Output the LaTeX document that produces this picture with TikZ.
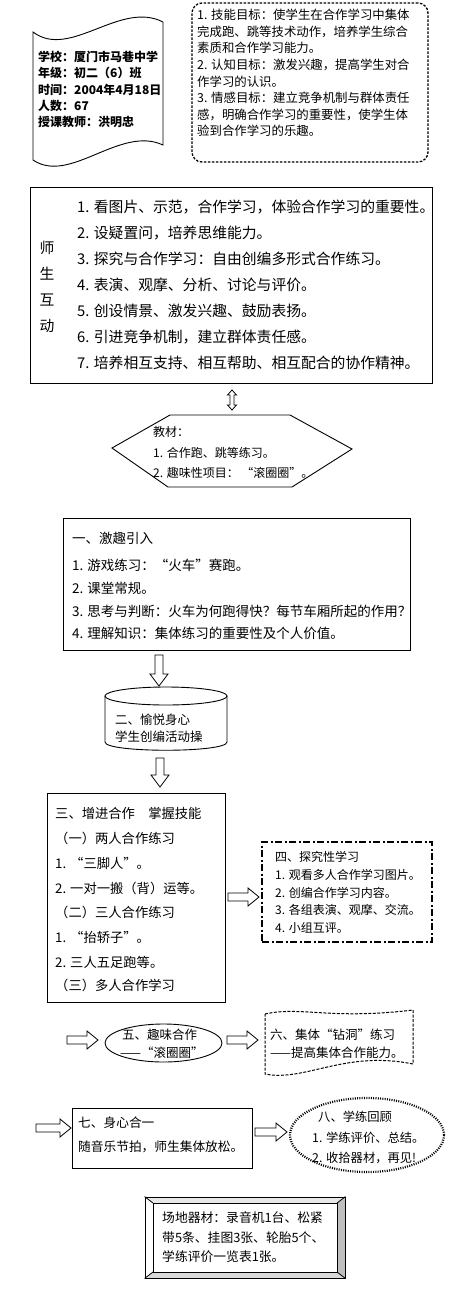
\documentclass[tikz,border=0pt]{standalone}
\usepackage{fontspec}
\setmainfont{Noto Sans CJK SC}
\usetikzlibrary{shapes.geometric,calc}
\newcommand\vblk[2]{\draw[blk] ([xshift=-4pt]#1) -- ([xshift=-4pt,yshift=12pt]#2) -- ([xshift=-9pt,yshift=12pt]#2) -- (#2) -- ([xshift=9pt,yshift=12pt]#2) -- ([xshift=4pt,yshift=12pt]#2) -- ([xshift=4pt]#1) -- cycle;}
\newcommand\hblk[2]{\draw[blk] ([yshift=4pt]#1) -- ([xshift=-11pt,yshift=4pt]#2) -- ([xshift=-11pt,yshift=9pt]#2) -- (#2) -- ([xshift=-11pt,yshift=-9pt]#2) -- ([xshift=-11pt,yshift=-4pt]#2) -- ([yshift=-4pt]#1) -- cycle;}
\newcommand\dvblk[2]{\draw[blk] (#1) -- ([xshift=4.5pt,yshift=-5pt]#1) -- ([xshift=2pt,yshift=-5pt]#1) -- ([xshift=2pt,yshift=5pt]#2) -- ([xshift=4.5pt,yshift=5pt]#2) -- (#2) -- ([xshift=-4.5pt,yshift=5pt]#2) -- ([xshift=-2pt,yshift=5pt]#2) -- ([xshift=-2pt,yshift=-5pt]#1) -- ([xshift=-4.5pt,yshift=-5pt]#1) -- cycle;}
\begin{document}
\begin{tikzpicture}[x=1pt,y=-1pt,
  bx/.style={draw, line width=0.9pt, inner sep=0pt},
  blk/.style={draw, line width=0.8pt, fill=white, line join=miter},
  tx/.style={anchor=west, inner sep=0pt},
  fsz/.style={font=\fontsize{#1}{#1}\selectfont},
  docf/.style={font=\fontsize{12}{12}\selectfont\bfseries}]
\useasboundingbox[fill=white] (0,0) rectangle (460,1293);

% ---------- top-left scroll ----------
\draw[line width=0.9pt] (33,32) .. controls (70,60) and (120,0) .. (163,22) -- (163,145) .. controls (120,125) and (70,185) .. (33,160) -- cycle;
\foreach \s [count=\i] in {学校：厦门市马巷中学, 年级：初二（6）班, 时间：2004年4月18日, 人数：67, 授课教师：洪明忠}
  \node[tx, docf] (doc\i) at (38,{57+16.3*(\i-1)}) {\s};

% ---------- goals ----------
\node[bx, line width=1.3pt, dash pattern=on 2.5pt off 1.5pt, rounded corners=10pt, minimum width=236pt, minimum height=159pt] (goals) at (310,82.5) {};
\foreach \s [count=\i] in {1. 技能目标：使学生在合作学习中集体, 完成跑、跳等技术动作，培养学生综合, 素质和合作学习能力。, 2. 认知目标：激发兴趣，提高学生对合, 作学习的认识。, 3. 情感目标：建立竞争机制与群体责任, 感，明确合作学习的重要性，使学生体, 验到合作学习的乐趣。}
  \node[tx, fsz=12.4] (goal\i) at (197,{15+16.6*(\i-1)}) {\s};

% ---------- interaction box ----------
\node[bx, minimum width=402pt, minimum height=196pt] (big) at (231,285) {};
\node[inner sep=0pt, align=center, font=\fontsize{14.8}{26}\selectfont] (biglab) at (47,286.5) {师\\生\\互\\动};
\foreach \s [count=\i] in {1. 看图片、示范，合作学习，体验合作学习的重要性。, 2. 设疑置问，培养思维能力。, 3. 探究与合作学习：自由创编多形式合作练习。, 4. 表演、观摩、分析、讨论与评价。, 5. 创设情景、激发兴趣、鼓励表扬。, 6. 引进竞争机制，建立群体责任感。, 7. 培养相互支持、相互帮助、相互配合的协作精神。}
  \node[tx, fsz=14.8] (big\i) at (77,{207+26*(\i-1)}) {\s};

% ---------- hexagon ----------
\draw[line width=0.9pt] (112,448) -- (170,415) -- (290,415) -- (352,449) -- (292,487) -- (168,487) -- cycle;
\node[inner sep=0pt, minimum width=240pt, minimum height=72pt] (hex) at (232,451) {};
\foreach \s [count=\i] in {教材：, 1. 合作跑、跳等练习。, 2. 趣味性项目： “滚圈圈”。}
  \node[tx, fsz=12] (hex\i) at (153,{432+20.5*(\i-1)}) {\s};
\coordinate (dvt) at (232,390);
\coordinate (dvb) at (232,410);
\dvblk{dvt}{dvb}

% ---------- box 1 ----------
\node[bx, minimum width=347pt, minimum height=132pt] (b1) at (236.5,584) {};
\foreach \s/\yy [count=\i] in {一、激趣引入/538, 1. 游戏练习：“火车”赛跑。/565, 2. 课堂常规。/588, 3. 思考与判断：火车为何跑得快？每节车厢所起的作用？/611, 4. 理解知识：集体练习的重要性及个人价值。/633}
  \node[tx, fsz=13.5] (b1t\i) at (72,\yy) {\s};

\coordinate (a1s) at (159,655);
\coordinate (a1e) at (159,686);
\vblk{a1s}{a1e}

% ---------- cylinder ----------
\draw[line width=0.9pt, fill=white] (105,696) -- (105,742) .. controls (105,753) and (227,753) .. (227,742) -- (227,696);
\draw[line width=0.9pt] (166,696) ellipse[x radius=61pt, y radius=9pt];
\node[inner sep=0pt, minimum width=122pt, minimum height=60pt] (cyl) at (166,720) {};
\node[tx, fsz=12.5] (cyl1) at (115,720) {二、愉悦身心};
\node[tx, fsz=12.5] (cyl2) at (115,737) {学生创编活动操};

\coordinate (a2s) at (160,758);
\coordinate (a2e) at (160,787);
\vblk{a2s}{a2e}

% ---------- box 3 ----------
\node[bx, minimum width=178pt, minimum height=209pt] (b3) at (136,897.5) {};
\foreach \s/\yy [count=\i] in {三、增进合作　掌握技能/813, （一）两人合作练习/838, 1. “三脚人”。/863, 2. 一对一搬（背）运等。/888, （二）三人合作练习/912, 1. “抬轿子”。/937, 2. 三人五足跑等。/962, （三）多人合作学习/985}
  \node[tx, fsz=13.3] (b3t\i) at (55,\yy) {\s};

\coordinate (a3s) at (228,897);
\coordinate (a3e) at (259,897);
\hblk{a3s}{a3e}

% ---------- box 4 ----------
\node[bx, line width=1.8pt, dash pattern=on 7pt off 2.5pt on 2pt off 2.5pt, minimum width=170pt, minimum height=100pt] (b4) at (347,892) {};
\foreach \s [count=\i] in {四、探究性学习, 1. 观看多人合作学习图片。, 2. 创编合作学习内容。, 3. 各组表演、观摩、交流。, 4. 小组互评。}
  \node[tx, fsz=12] (b4t\i) at (275,{857+17.75*(\i-1)}) {\s};

% ---------- row 5 / 6 ----------
\coordinate (a4s) at (67,1040);
\coordinate (a4e) at (98,1040);
\hblk{a4s}{a4e}
\node[ellipse, draw, line width=0.9pt, inner sep=0pt, minimum width=117pt, minimum height=38pt] (e5) at (163.5,1043) {};
\node[tx, fsz=12.5] (e5a) at (122,1035) {五、趣味合作};
\node[tx, fsz=12.5] (e5b) at (120,1053) {——“滚圈圈”};
\coordinate (a5s) at (227,1040);
\coordinate (a5e) at (258,1040);
\hblk{a5s}{a5e}
\draw[line width=1pt, dash pattern=on 3pt off 1.5pt] (265,1014) .. controls (300,1006) and (330,1020) .. (413,1010) -- (413,1064) .. controls (345,1050) and (305,1082) .. (265,1074) -- cycle;
\node[tx, fsz=12.5] (d6a) at (270,1035) {六、集体“钻洞”练习};
\node[tx, fsz=12.5] (d6b) at (270,1053) {——提高集体合作能力。};

% ---------- row 7 / 8 ----------
\coordinate (a6s) at (36,1128);
\coordinate (a6e) at (71,1128);
\hblk{a6s}{a6e}
\node[bx, minimum width=180pt, minimum height=60pt] (b7) at (162,1138) {};
\node[tx, fsz=12.7] (b7a) at (78,1123) {七、身心合一};
\node[tx, fsz=12.7] (b7b) at (78,1147) {随音乐节拍，师生集体放松。};
\coordinate (a7s) at (255,1132);
\coordinate (a7e) at (287,1132);
\hblk{a7s}{a7e}
\node[ellipse, draw, line width=2.2pt, dash pattern=on 1pt off 1.3pt, inner sep=0pt, minimum width=154pt, minimum height=74pt] (e8) at (367,1135) {};
\node[tx, fsz=12.3] (e8a) at (318,1117) {八、学练回顾};
\node[tx, fsz=12.3] (e8b) at (312,1138) {1. 学练评价、总结。};
\node[tx, fsz=12.3] (e8c) at (312,1158) {2. 收拾器材，再见!};

% ---------- equipment bevel box ----------
\fill[gray!50] (345,1197) -- (345,1278) -- (337,1272) -- (337,1203) -- cycle;
\fill[gray!30] (145,1278) -- (345,1278) -- (337,1272) -- (153,1272) -- cycle;
\fill[gray!18] (145,1197) -- (345,1197) -- (337,1203) -- (153,1203) -- cycle;
\node[bx, minimum width=200pt, minimum height=81pt] (eq) at (245,1237.5) {};
\draw[line width=0.8pt] (153,1203) rectangle (337,1272);
\draw[line width=0.8pt] (eq.north west) -- (153,1203) (eq.north east) -- (337,1203) (eq.south west) -- (153,1272) (eq.south east) -- (337,1272);
\foreach \s [count=\i] in {场地器材：录音机1台、松紧, 带5条、挂图3张、轮胎5个、, 学练评价一览表1张。}
  \node[tx, fsz=12.8] (eq\i) at (162,{1218+19.5*(\i-1)}) {\s};
\end{tikzpicture}
\end{document}
